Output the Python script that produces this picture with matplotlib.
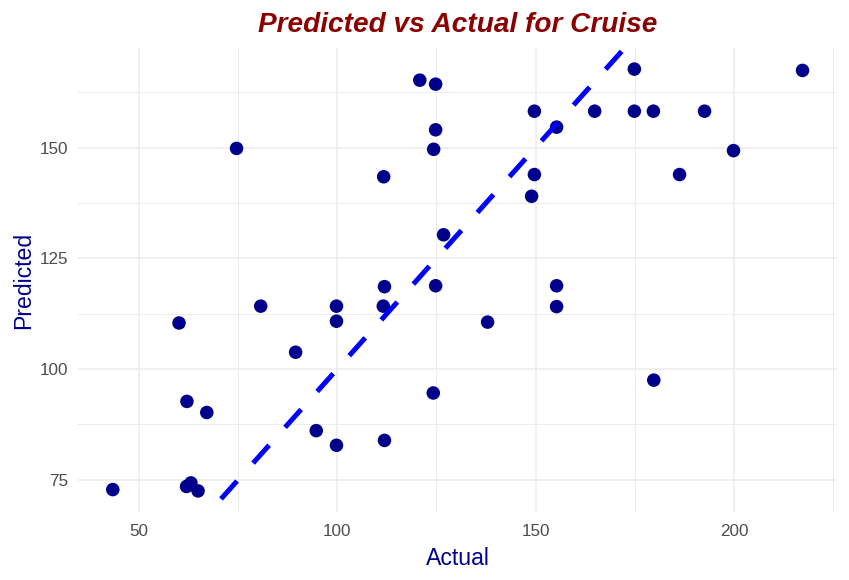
import matplotlib
matplotlib.use("Agg")
import matplotlib.pyplot as plt
import numpy as np
from matplotlib.ticker import MultipleLocator

plt.rcParams['font.family'] = ['Liberation Sans', 'DejaVu Sans']
plt.rcParams['lines.scale_dashes'] = False

# Data
actual = [43.4, 62.0, 63.1, 64.9, 60.1, 62.1, 67.1, 74.6, 80.7, 89.5, 94.7, 99.8, 99.8, 99.8,
          111.6, 111.9, 111.9, 111.7, 124.2, 124.8, 120.8, 124.8, 124.8, 124.3, 126.8, 137.9,
          149.7, 155.3, 149.7, 149.0, 155.3, 155.3, 164.9, 174.9, 174.9, 179.7, 192.6, 186.3,
          199.9, 217.3, 179.8]
predicted = [72.8, 73.5, 74.3, 72.5, 110.4, 92.7, 90.2, 149.8, 114.2, 103.8, 86.1, 114.2, 110.8, 82.8,
             114.2, 118.6, 83.9, 143.4, 94.6, 118.8, 165.2, 164.3, 154.0, 149.6, 130.3, 110.6,
             158.2, 154.6, 143.9, 139.0, 118.8, 114.1, 158.2, 158.2, 167.7, 158.2, 158.2, 143.9,
             149.3, 167.4, 97.5]
x_ticks = [50, 100, 150, 200]
y_ticks = [75, 100, 125, 150]

W, H = 849, 580
fig = plt.figure(figsize=(W / 100, H / 100), dpi=100)
L, R, T, B = 78.3, 837.0, 48.0, 512.0
ax = fig.add_axes([L / W, 1 - B / H, (R - L) / W, (B - T) / H])

xa, ya = np.array(actual), np.array(predicted)
xr = xa.max() - xa.min(); yr = ya.max() - ya.min()
xlim = (xa.min() - 0.05 * xr, xa.max() + 0.05 * xr)
ylim = (ya.min() - 0.05 * yr, ya.max() + 0.05 * yr)

grid_c = '#EBEBEB'
ax.set_xticks(x_ticks)
ax.set_yticks(y_ticks)
ax.xaxis.set_minor_locator(MultipleLocator(25))
ax.yaxis.set_minor_locator(MultipleLocator(12.5))
ax.grid(which='major', color=grid_c, linewidth=1.1, zorder=0)
ax.grid(which='minor', color=grid_c, linewidth=0.65, zorder=0)
ax.set_axisbelow(True)

ax.scatter(actual, predicted, s=95, color='#00008B', edgecolors='none', zorder=3)
ax.plot([xlim[0], xlim[1]], [xlim[0], xlim[1]], color='#0000FF', linewidth=3.6,
        linestyle=(24.5, (17.3, 17.3)), solid_capstyle='butt', dash_capstyle='butt', zorder=4)

ax.set_xlim(xlim)
ax.set_ylim(ylim)

for s in ax.spines.values():
    s.set_visible(False)
ax.tick_params(which='both', length=0)
ax.tick_params(axis='x', labelsize=12.3, labelcolor='#4D4D4D', pad=8.8)
ax.tick_params(axis='y', labelsize=12.3, labelcolor='#4D4D4D', pad=7.4)

fig.text((L + R) / 2 / W, 1 - 31.7 / H, 'Predicted vs Actual for Cruise', ha='center', va='baseline',
         fontsize=20.2, fontweight='bold', fontstyle='italic', color='#8B0000')
fig.text((L + R) / 2 / W, 1 - 565 / H, 'Actual', ha='center', va='baseline',
         fontsize=16.6, color='#00008B')
fig.text(30 / W, 1 - (T + B) / 2 / H, 'Predicted', ha='center', va='baseline', rotation=90,
         rotation_mode='anchor', fontsize=16.6, color='#00008B')

fig.savefig('out.png', dpi=100, facecolor='white')
